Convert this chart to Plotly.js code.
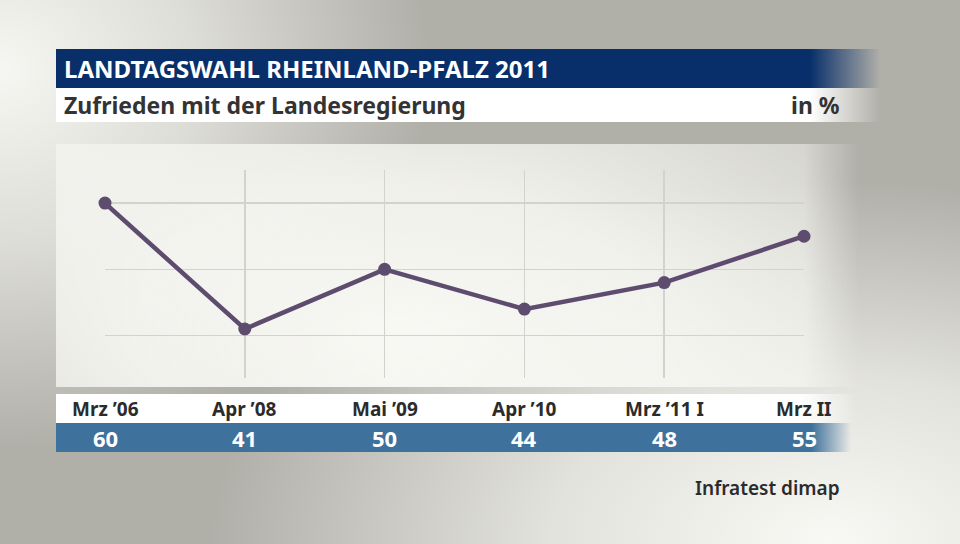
<!DOCTYPE html>
<html>
<head>
<meta charset="utf-8">
<script src="https://cdn.plot.ly/plotly-3.0.1.min.js"></script>
<style>
  html, body { margin:0; padding:0; }
  body { width:960px; height:544px; overflow:hidden; position:relative;
    background:
      radial-gradient(ellipse 430px 380px at 0px 70px, #f6f6f2 0%, rgba(246,246,242,0.65) 45%, rgba(246,246,242,0) 100%),
      radial-gradient(ellipse 620px 360px at 830px 540px, #f8f8f4 0%, rgba(248,248,244,0.7) 45%, rgba(248,248,244,0) 100%),
      #b0afa8;
  }
  .deco { position:absolute; }
  #bar1 { left:56px; top:49px; width:824px; height:39px;
    background: linear-gradient(to right, #082f6a 0%, #082f6a 91.5%, rgba(8,47,106,0) 100%); }
  #bar2 { left:56px; top:88px; width:824px; height:34px;
    background: linear-gradient(to right, #ffffff 0%, #ffffff 91.5%, rgba(255,255,255,0) 100%); }
  #plotbg { left:56px; top:144px; width:804px; height:243px;
    background: radial-gradient(ellipse 520px 300px at 340px 190px, rgba(249,249,245,0.98) 0%, rgba(248,248,244,0.88) 50%, rgba(246,246,241,0.55) 100%);
    -webkit-mask-image: linear-gradient(to right, #000 0%, #000 93%, transparent 100%);
    mask-image: linear-gradient(to right, #000 0%, #000 93%, transparent 100%); }
  #labrow { left:56px; top:394px; width:800px; height:29px;
    background: linear-gradient(to right, #ffffff 0%, #ffffff 93%, rgba(255,255,255,0) 100%); }
  #valrow { left:56px; top:423px; width:795px; height:29px;
    background: linear-gradient(to right, #3e719b 0%, #3e719b 95%, rgba(62,113,155,0) 100%); }
  #chart { position:absolute; left:0; top:0; width:960px; height:544px; }
</style>
</head>
<body>
<div class="deco" id="bar1"></div>
<div class="deco" id="bar2"></div>
<div class="deco" id="plotbg"></div>
<div class="deco" id="labrow"></div>
<div class="deco" id="valrow"></div>
<div id="chart"></div>
<script>
const categories = ["Mrz \u201906", "Apr \u201908", "Mai \u201909", "Apr \u201910", "Mrz \u201911 I", "Mrz II"];
const values = [60, 41, 50, 44, 48, 55];
const titleText = "LANDTAGSWAHL RHEINLAND-PFALZ 2011";
const subtitleText = "Zufrieden mit der Landesregierung";
const unitText = "in %";
const sourceText = "Infratest dimap";

const W = 960, H = 544;
const px = x => x / W;
const py = y => 1 - y / H;
const FONT = "Noto Sans, sans-serif";

const idx = categories.map((c, i) => i);

const annotations = [];
annotations.push({xref:'paper', yref:'paper', x:px(62), y:py(68), xanchor:'left', yanchor:'middle',
  text:'<b>' + titleText + '</b>', showarrow:false, font:{family:FONT, size:24, color:'#ffffff'}});
annotations.push({xref:'paper', yref:'paper', x:px(62), y:py(105), xanchor:'left', yanchor:'middle',
  text:'<b>' + subtitleText + '</b>', showarrow:false, font:{family:FONT, size:23, color:'#333333'}});
annotations.push({xref:'paper', yref:'paper', x:px(842), y:py(105), xanchor:'right', yanchor:'middle',
  text:'<b>' + unitText + '</b>', showarrow:false, font:{family:FONT, size:23, color:'#333333'}});
annotations.push({xref:'paper', yref:'paper', x:px(842), y:py(488), xanchor:'right', yanchor:'middle',
  text:sourceText, showarrow:false, font:{family:FONT, size:19, weight:600, color:'#2b2b2b'}});
categories.forEach((c, i) => {
  annotations.push({xref:'x', yref:'paper', x:i, y:py(409), xanchor:'center', yanchor:'middle',
    text:'<b>' + c + '</b>', showarrow:false, font:{family:FONT, size:19, color:'#2b2b2b'}});
  annotations.push({xref:'x', yref:'paper', x:i, y:py(438), xanchor:'center', yanchor:'middle',
    text:'<b>' + values[i] + '</b>', showarrow:false, font:{family:FONT, size:22, color:'#ffffff'}});
});

const trace = {
  x: idx, y: values, type:'scatter', mode:'lines+markers',
  line:{color:'#5e4c6f', width:4.5},
  marker:{color:'#5e4c6f', size:13},
  cliponaxis:false, hoverinfo:'none'
};

const layout = {
  width:W, height:H, margin:{l:0, r:0, t:0, b:0},
  paper_bgcolor:'rgba(0,0,0,0)', plot_bgcolor:'rgba(0,0,0,0)',
  showlegend:false,
  xaxis:{domain:[px(105), px(804)], range:[0, 5], showgrid:true, gridcolor:'#d3d3ce', gridwidth:1.5,
    zeroline:false, showline:false, showticklabels:false, ticks:'', tickmode:'array', tickvals:idx, fixedrange:true},
  yaxis:{domain:[py(378), py(170)], range:[33.6, 65], showgrid:true, gridcolor:'#d3d3ce', gridwidth:1.5,
    zeroline:false, showline:false, showticklabels:false, ticks:'', tickmode:'array', tickvals:[40, 50, 60], fixedrange:true},
  annotations: annotations
};

Plotly.newPlot('chart', [trace], layout, {displayModeBar:false, staticPlot:true});
</script>
</body>
</html>
